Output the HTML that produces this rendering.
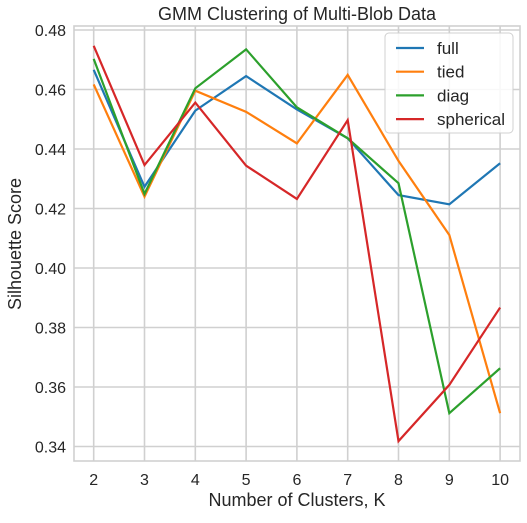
<!DOCTYPE html>
<html><head><meta charset="utf-8"><style>
body{margin:0;background:#fff;}
svg text{font-family:"Liberation Sans","DejaVu Sans",sans-serif;fill:#262626;}
</style></head><body>
<svg id="chart" width="527" height="518" xmlns="http://www.w3.org/2000/svg">
<rect width="527" height="518" fill="#fff"/>
<g id="grid"></g>
<g id="lines"></g>
<rect x="74" y="26" width="446" height="435" fill="none" stroke="#d0d0d0" stroke-width="1.6"/>
<g id="ticks"></g>
<text x="297" y="20" font-size="18" text-anchor="middle">GMM Clustering of Multi-Blob Data</text>
<text x="297" y="506" font-size="18" text-anchor="middle">Number of Clusters, K</text>
<text transform="translate(21,244) rotate(-90)" font-size="18" text-anchor="middle">Silhouette Score</text>
<g id="legend"></g>
</svg>
<script>
const categories=[2,3,4,5,6,7,8,9,10];
const seriesNames=["full","tied","diag","spherical"];
const fullVals=[0.4666,0.4273,0.4529,0.4645,0.4533,0.4436,0.4245,0.4214,0.4352];
const tiedVals=[0.4617,0.4240,0.4596,0.4525,0.4419,0.4649,0.4360,0.4111,0.3512];
const diagVals=[0.4703,0.4249,0.4604,0.4735,0.4540,0.4436,0.4285,0.3512,0.3663];
const sphericalVals=[0.4747,0.4346,0.4556,0.4344,0.4232,0.4497,0.3418,0.3607,0.3867];
const yTicks=[0.34,0.36,0.38,0.40,0.42,0.44,0.46,0.48];
const colors=["#1f77b4","#ff7f0e","#2ca02c","#d62728"];
const NS="http://www.w3.org/2000/svg";
function xs(k){return 93.7+(k-2)*50.8;}
function ys(v){return 30+(0.48-v)/0.02*59.5;}
function mk(tag,attrs,parent){const e=document.createElementNS(NS,tag);for(const k in attrs)e.setAttribute(k,attrs[k]);parent.appendChild(e);return e;}
const grid=document.getElementById('grid'),ticks=document.getElementById('ticks'),lines=document.getElementById('lines'),legend=document.getElementById('legend');
categories.forEach(k=>{
  const g=mk('line',{x1:xs(k),x2:xs(k),y1:26,y2:461,stroke:'#d0d0d0','stroke-width':1.6},grid);
  
  
  const t=mk('text',{x:xs(k),y:485,'font-size':16,'text-anchor':'middle'},ticks);
  t.textContent=k;
  
  
});
yTicks.forEach(v=>{
  const g=mk('line',{x1:74,x2:520,y1:ys(v),y2:ys(v),stroke:'#d0d0d0','stroke-width':1.6},grid);
  
  
  const t=mk('text',{x:66,y:ys(v)+6,'font-size':16,'text-anchor':'end'},ticks);
  t.textContent=v.toFixed(2);
  
  
});
[fullVals,tiedVals,diagVals,sphericalVals].forEach((vals,i)=>{
  const p=mk('polyline',{points:vals.map((v,j)=>xs(categories[j])+','+ys(v)).join(' '),fill:'none',stroke:colors[i],'stroke-width':2.2},lines);
  
  
});
const box=mk('rect',{x:385,y:33,width:128,height:100,rx:4,fill:'#fff','fill-opacity':0.85,stroke:'#d0d0d0','stroke-width':1},legend);


seriesNames.forEach((n,i)=>{
  const y=48+i*23.7;
  const l=mk('line',{x1:396,x2:424,y1:y,y2:y,stroke:colors[i],'stroke-width':2.2},legend);
  
  
  const t=mk('text',{x:437,y:y+6,'font-size':17},legend);
  t.textContent=n;
  
  
});
</script>
</body></html>
